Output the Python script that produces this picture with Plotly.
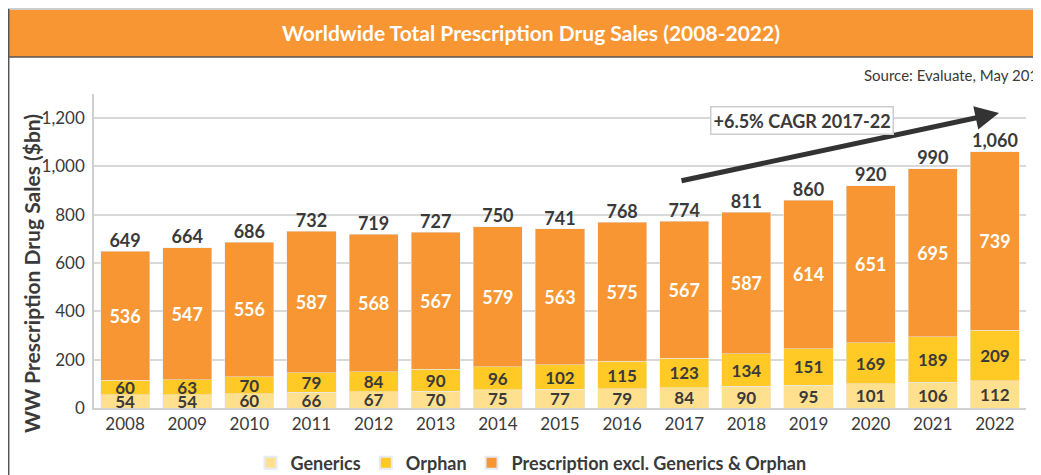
import plotly.graph_objects as go

years = ["2008", "2009", "2010", "2011", "2012", "2013", "2014", "2015",
         "2016", "2017", "2018", "2019", "2020", "2021", "2022"]
generics = [54, 54, 60, 66, 67, 70, 75, 77, 79, 84, 90, 95, 101, 106, 112]
orphan = [60, 63, 70, 79, 84, 90, 96, 102, 115, 123, 134, 151, 169, 189, 209]
rx_excl = [536, 547, 556, 587, 568, 567, 579, 563, 575, 567, 587, 614, 651, 695, 739]
totals = [649, 664, 686, 732, 719, 727, 750, 741, 768, 774, 811, 860, 920, 990, 1060]

FONT = "Lato"
DARK = "#3a3a3a"
ORANGE = "#F79633"
YELLOW = "#FFC926"
LIGHT = "#FFE08F"

fig = go.Figure()
common = dict(textposition="inside", insidetextanchor="middle", constraintext="none",
              textangle=0, texttemplate="<b>%{y}</b>")
fig.add_trace(go.Bar(x=years, y=generics, name="<b>Generics</b>", marker_color=LIGHT,
                     textfont=dict(color=DARK, size=17, family=FONT), text=generics, **common))
fig.add_trace(go.Bar(x=years, y=orphan, name="<b>Orphan</b>", marker_color=YELLOW,
                     textfont=dict(color=DARK, size=17, family=FONT), text=orphan, **common))
fig.add_trace(go.Bar(x=years, y=rx_excl, name="<b>Prescription excl. Generics & Orphan</b>",
                     marker_color=ORANGE,
                     textfont=dict(color="white", size=18, family=FONT), text=rx_excl, **common))
fig.add_trace(go.Scatter(x=years, y=totals, mode="text",
                         text=[f"<b>{t:,}</b>" for t in totals], textposition="top center",
                         textfont=dict(color=DARK, size=18, family=FONT),
                         showlegend=False, hoverinfo="skip"))

# page body has an 8px margin; figure occupies screen px 8..1041, 8..475
OFF = 8
W, H = 1041 - OFF, 475 - OFF
# plot area in screen px: x 94..1026, y 94..408
ml = 94 - OFF
mr = W - (1026 - OFF)
mt = 94 - OFF
mb = H - (408 - OFF)
pw = W - ml - mr
ph = H - mt - mb

def px_x(sx):
    return (sx - OFF - ml) / pw

def px_y(sy):
    return (H - mb - (sy - OFF)) / ph

shapes = [
    dict(type="rect", xref="paper", yref="paper", x0=px_x(8), x1=px_x(1045),
         y0=px_y(57), y1=px_y(10), fillcolor=ORANGE, line=dict(width=0), layer="below"),
    dict(type="line", xref="paper", yref="paper", x0=px_x(8), x1=px_x(1045),
         y0=px_y(9), y1=px_y(9), line=dict(color="#9a9a9a", width=1)),
    dict(type="line", xref="paper", yref="paper", x0=px_x(8), x1=px_x(1045),
         y0=px_y(57), y1=px_y(57), line=dict(color="#555555", width=1.5)),
    dict(type="line", xref="paper", yref="paper", x0=px_x(8.7), x1=px_x(8.7),
         y0=px_y(9), y1=px_y(480), line=dict(color="#555555", width=1.5)),
]

annotations = [
    dict(text="<b>Worldwide Total Prescription Drug Sales (2008-2022)</b>", xref="paper",
         yref="paper", x=px_x(531), y=px_y(33), showarrow=False,
         font=dict(color="white", size=21, family=FONT), xanchor="center", yanchor="middle"),
    dict(text="Source: Evaluate, May 2017", xref="paper", yref="paper", x=px_x(862),
         y=px_y(75), showarrow=False, font=dict(color=DARK, size=15, family=FONT),
         xanchor="left", yanchor="middle"),
    dict(text="<b>WW Prescription Drug Sales ($bn)</b>", xref="paper", yref="paper",
         x=px_x(31), y=px_y(274), showarrow=False, textangle=-90,
         font=dict(color=DARK, size=21, family=FONT), xanchor="center", yanchor="middle"),
    dict(text="", xref="paper", yref="paper", x=px_x(999), y=px_y(113),
         ax=-(999 - 680), ay=(181 - 113), showarrow=True, arrowhead=2, arrowsize=0.95,
         arrowwidth=5, arrowcolor="#333333"),
    dict(text="<b>+6.5% CAGR 2017-22</b>", xref="paper", yref="paper", x=px_x(802),
         y=px_y(120), showarrow=False, font=dict(color=DARK, size=18, family=FONT),
         bgcolor="white", bordercolor="#cccccc", borderwidth=1.5, borderpad=2,
         xanchor="center", yanchor="middle"),
]

fig.update_layout(
    width=W, height=H,
    margin=dict(l=ml, r=mr, t=mt, b=mb, pad=0, autoexpand=False),
    paper_bgcolor="white", plot_bgcolor="white",
    barmode="stack", bargap=0.21,
    font=dict(family=FONT, color=DARK),
    showlegend=True,
    legend=dict(orientation="h", x=px_x(531), y=px_y(463), xanchor="center", yanchor="middle",
                font=dict(size=18, family=FONT, color=DARK), traceorder="normal",
                itemsizing="constant"),
    shapes=shapes,
    annotations=annotations,
    xaxis=dict(range=[-0.5, len(years) - 0.5], showgrid=False, showline=True,
               linecolor="#d0d0d0", linewidth=1.5,
               tickfont=dict(size=17, family=FONT, color=DARK), ticks=""),
    yaxis=dict(range=[0, 1300], tickvals=[0, 200, 400, 600, 800, 1000, 1200],
               tickformat=",", showgrid=True, gridcolor="#d9d9d9", gridwidth=1.5,
               showline=True, linecolor="#d0d0d0", linewidth=1.5, zeroline=False,
               tickfont=dict(size=17, family=FONT, color=DARK), ticks="", ticklabelstandoff=4),
)

fig.write_html("out.html")
